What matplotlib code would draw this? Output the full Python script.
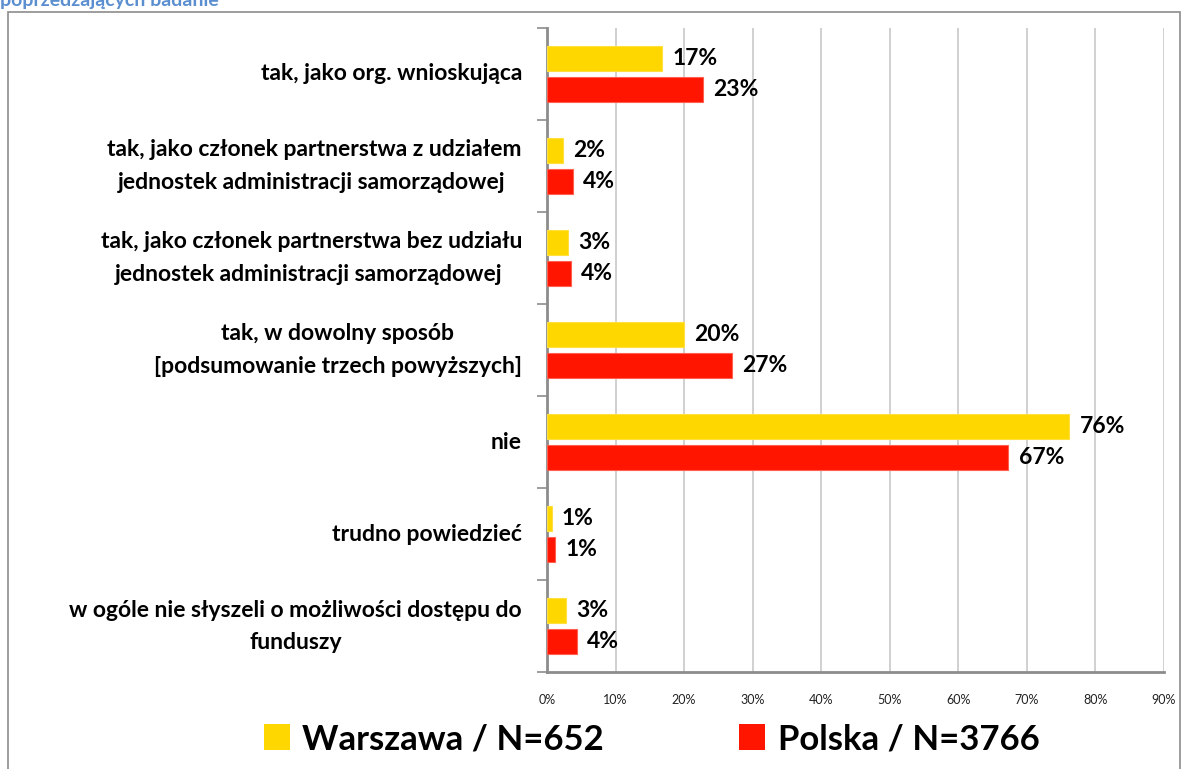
import matplotlib.pyplot as plt
import numpy as np
from matplotlib.patches import Patch, Rectangle

categories = [
    "tak, jako org. wnioskująca",
    "tak, jako członek partnerstwa z udziałem\njednostek administracji samorządowej ",
    "tak, jako członek partnerstwa bez udziału\njednostek administracji samorządowej ",
    "tak, w dowolny sposób\n[podsumowanie trzech powyższych]",
    "nie",
    "trudno powiedzieć",
    "w ogóle nie słyszeli o możliwości dostępu do\nfunduszy",
]
warszawa = [16.8, 2.3, 3.1, 20.0, 76.2, 0.7, 2.8]
polska = [22.7, 3.8, 3.5, 27.0, 67.3, 1.2, 4.4]
series_names = ["Warszawa / N=652", "Polska / N=3766"]
x_ticks = list(range(0, 100, 10))

YELLOW = "#FFD700"
RED = "#FF1500"

plt.rcParams["font.family"] = ["Lato", "DejaVu Sans"]

fig = plt.figure(figsize=(11.87, 7.69), dpi=100)
ax = fig.add_axes([0.4608, 0.1261, 0.5198, 0.8375])

y = np.arange(len(categories))
h = 0.27
ax.barh(y - 0.165, warszawa, height=h, color=YELLOW, edgecolor="#FFE040", linewidth=0.8, zorder=3)
ax.barh(y + 0.165, polska, height=h, color=RED, edgecolor="#FF6050", linewidth=0.8, zorder=3)

for yi, v in zip(y, warszawa):
    ax.text(v + 1.5, yi - 0.165, f"{round(v):.0f}%", va="center", ha="left",
            fontsize=16.5, fontweight="bold", zorder=4)
for yi, v in zip(y, polska):
    ax.text(v + 1.5, yi + 0.165, f"{round(v):.0f}%", va="center", ha="left",
            fontsize=16.5, fontweight="bold", zorder=4)

ax.set_xlim(0, 90)
ax.set_ylim(len(categories) - 0.5, -0.5)
ax.set_xticks(x_ticks)
ax.set_xticklabels([f"{t}%" for t in x_ticks], fontsize=9, color="#222222")
ax.tick_params(axis="x", length=0, pad=16)
ax.grid(axis="x", color="#C8C8C8", linewidth=1.2, zorder=0)

ax.set_yticks(y)
ax.set_yticklabels(categories, fontsize=16.5, fontweight="bold", multialignment="center",
                   linespacing=1.65, va="center")
ax.tick_params(axis="y", length=0, pad=18)
ax.set_yticks(np.arange(-0.5, len(categories), 1), minor=True)
ax.tick_params(axis="y", which="minor", length=7, color="#8C8C8C", width=1.2)

for s in ["top", "right"]:
    ax.spines[s].set_visible(False)
for s in ["left", "bottom"]:
    ax.spines[s].set_color("#8C8C8C")
    ax.spines[s].set_linewidth(2)

handles = [Patch(facecolor=YELLOW), Patch(facecolor=RED)]
fig.legend(handles, series_names, loc="center", bbox_to_anchor=(0.549, 0.039), ncol=2,
           frameon=False, prop={"size": 25, "weight": "bold"}, handlelength=0.75,
           handleheight=0.75, handletextpad=0.35, columnspacing=3.9)

fig.patches.append(Rectangle((8 / 1187, -0.05), 1172 / 1187, 1.05 - 12 / 769,
                             transform=fig.transFigure, fill=False,
                             edgecolor="#8C8C8C", linewidth=1.2))
fig.text(0.0, 1 - 6 / 769, "poprzedzających badanie", color="#5B8FD0",
         fontsize=14, fontweight="bold", ha="left", va="baseline")

fig.savefig("out.png", dpi=100)
